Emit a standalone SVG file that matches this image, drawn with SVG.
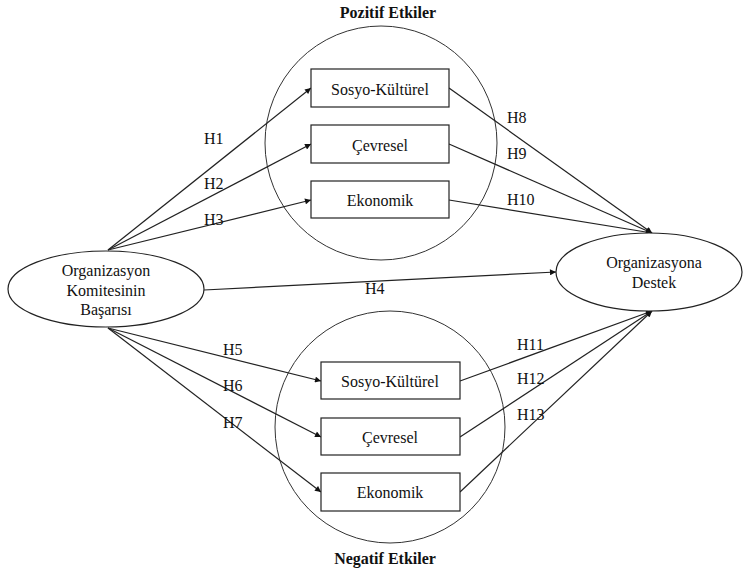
<svg xmlns="http://www.w3.org/2000/svg" width="743" height="573" viewBox="0 0 743 573">
<style>
text{font-family:'Liberation Serif','Times New Roman','DejaVu Serif',serif;font-size:16px;fill:#111}
.t{font-weight:bold;text-anchor:middle}
.c{text-anchor:middle}
.shape{fill:#fff;stroke:#222;stroke-width:1.2}
.grp{fill:none;stroke:#333;stroke-width:1}
.e{stroke:#222;stroke-width:1.2;fill:none}
.a{marker-end:url(#arr)}
</style>
<defs>
<marker id="arr" viewBox="0 0 10 10" refX="10" refY="5" markerWidth="8" markerHeight="6" markerUnits="userSpaceOnUse" orient="auto">
<path d="M0,0 L10,5 L0,10 z" fill="#111"/>
</marker>
</defs>
<rect width="743" height="573" fill="#fff"/>
<g id="pozitif">
<ellipse class="grp" cx="381" cy="143" rx="116" ry="117"/>
<text class="t" x="388" y="18">Pozitif Etkiler</text>
</g>
<g id="negatif">
<ellipse class="grp" cx="390" cy="427" rx="115" ry="116"/>
<text class="t" x="385" y="564">Negatif Etkiler</text>
</g>
<g id="connectors">
<line class="e a" x1="108" y1="250" x2="311" y2="88"/>
<line class="e a" x1="108" y1="250" x2="311" y2="144"/>
<line class="e a" x1="108" y1="250" x2="311" y2="200"/>
<line class="e a" x1="204" y1="290" x2="556" y2="272"/>
<line class="e a" x1="108" y1="328" x2="321" y2="381"/>
<line class="e a" x1="108" y1="328" x2="321" y2="437"/>
<line class="e a" x1="108" y1="328" x2="321" y2="492"/>
<line class="e a" x1="449" y1="88" x2="652" y2="233"/>
<line class="e a" x1="449" y1="144" x2="652" y2="233"/>
<line class="e a" x1="449" y1="200" x2="652" y2="233"/>
<line class="e a" x1="460" y1="381" x2="652" y2="311"/>
<line class="e a" x1="460" y1="437" x2="652" y2="311"/>
<line class="e a" x1="460" y1="492" x2="652" y2="311"/>
<text x="204" y="144">H1</text>
<text x="204" y="189">H2</text>
<text x="204" y="225">H3</text>
<text x="365" y="294">H4</text>
<text x="223" y="355">H5</text>
<text x="223" y="391">H6</text>
<text x="223" y="428">H7</text>
<text x="507" y="123">H8</text>
<text x="507" y="159">H9</text>
<text x="507" y="205">H10</text>
<text x="517" y="350">H11</text>
<text x="517" y="384">H12</text>
<text x="517" y="420">H13</text>
</g>
<g id="basari">
<ellipse class="shape" cx="106" cy="289" rx="98" ry="38"/>
<text class="c" x="106" y="276">Organizasyon</text>
<text class="c" x="106" y="296">Komitesinin</text>
<text class="c" x="106" y="315">Başarısı</text>
</g>
<g id="destek">
<ellipse class="shape" cx="649" cy="272" rx="93" ry="39"/>
<text class="c" x="654" y="268">Organizasyona</text>
<text class="c" x="654" y="288">Destek</text>
</g>
<g id="p-sosyo">
<rect class="shape" x="311" y="69" width="138" height="38"/>
<text class="c" x="380" y="95">Sosyo-Kültürel</text>
</g>
<g id="p-cevre">
<rect class="shape" x="311" y="125" width="138" height="38"/>
<text class="c" x="380" y="151">Çevresel</text>
</g>
<g id="p-ekon">
<rect class="shape" x="311" y="181" width="138" height="37"/>
<text class="c" x="380" y="206">Ekonomik</text>
</g>
<g id="n-sosyo">
<rect class="shape" x="321" y="362" width="139" height="37"/>
<text class="c" x="390" y="387">Sosyo-Kültürel</text>
</g>
<g id="n-cevre">
<rect class="shape" x="321" y="418" width="139" height="37"/>
<text class="c" x="390" y="443">Çevresel</text>
</g>
<g id="n-ekon">
<rect class="shape" x="321" y="473" width="139" height="38"/>
<text class="c" x="390" y="498">Ekonomik</text>
</g>
</svg>
